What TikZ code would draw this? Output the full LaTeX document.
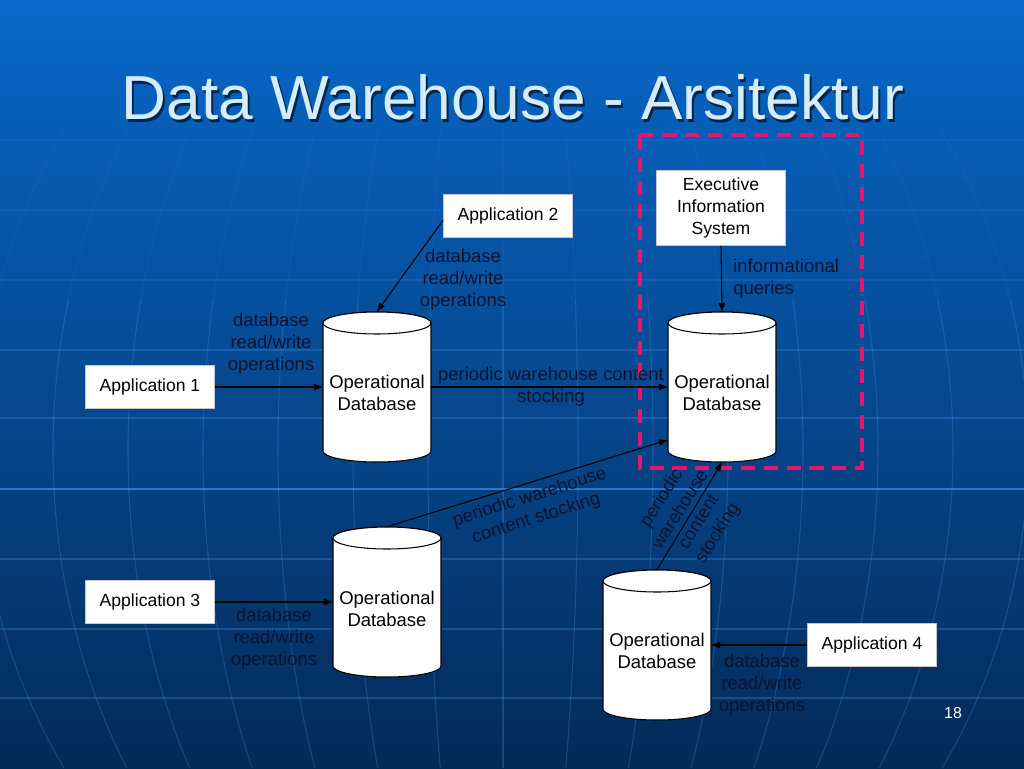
\documentclass[tikz,border=0pt]{standalone}
\usepackage{fontspec}
\setmainfont{Liberation Sans}
\usetikzlibrary{arrows.meta,calc}
\definecolor{bgtop}{HTML}{0868CA}
\definecolor{bgmid}{HTML}{0B4E9C}
\definecolor{bgbot}{HTML}{042A58}
\definecolor{gridc}{HTML}{4A92EC}
\definecolor{titlec}{HTML}{D6ECFB}
\definecolor{pinkc}{HTML}{E2176F}
\definecolor{labelc}{HTML}{08142E}
\newcommand{\drawcyl}[3]{%
  \node[dbnode] (#1) at (#2,#3) {};
  \filldraw[cylline] (#2-54,#3-64) -- (#2-54,#3+64)
     arc[start angle=180,end angle=0,x radius=54,y radius=11]
     -- (#2+54,#3-64)
     arc[start angle=0,end angle=-180,x radius=54,y radius=11] -- cycle;
  \draw[cylline] (#2,#3-64) ellipse[x radius=54,y radius=11];
}
\begin{document}
\begin{tikzpicture}[x=0.02cm,y=-0.02cm,
  appbox/.style={draw=gray!45, fill=white, line width=0.4pt, minimum width=2.58cm,
    minimum height=0.85cm, inner sep=0pt, align=center,
    font=\fontsize{10}{12.5}\selectfont, text=black},
  lbl/.style={font=\fontsize{10.5}{12.5}\selectfont, text=labelc, align=center, inner sep=0pt},
  dbtext/.style={font=\fontsize{10.5}{12.5}\selectfont, text=black, align=center, inner sep=0pt},
  dbnode/.style={minimum width=2.16cm, minimum height=3cm, inner sep=0pt},
  cylline/.style={draw=black, fill=white, line width=0.6pt},
  conn/.style={draw=black, line width=0.6pt, -{Triangle[length=5pt,width=3.6pt]}},
  gridline/.style={draw=gridc, line width=0.6pt},
  dashbox/.style={draw=pinkc, line width=2pt, dash pattern=on 8pt off 5pt}
]
% background
\shade[top color=bgtop, middle color=bgmid, bottom color=bgbot] (0,0) rectangle (1024,768);
\begin{scope}
\clip (0,0) rectangle (1024,768);
\foreach \yy/\op in {140/0.1,210/0.12,280/0.18,350/0.28,418/0.32,489/0.65,559/0.3,629/0.3,698/0.3}
  \draw[gridline, opacity=\op] (0,\yy) -- (1024,\yy);
\foreach \i in {-7,...,7}{
  \draw[gridline, opacity=0.1] plot[variable=\t, domain=130:300, samples=10, smooth]
     ({503+75*\i*sqrt(1-((\t-450)/580)^2)}, \t);
  \draw[gridline, opacity=0.28] plot[variable=\t, domain=300:768, samples=20, smooth]
     ({503+75*\i*sqrt(1-((\t-450)/580)^2)}, \t);
}
\end{scope}
\useasboundingbox (0,0) rectangle (1024,768);
% title
\node[font=\fontsize{35.4}{40}\selectfont, text=black, opacity=0.6, anchor=base] (titleshadow) at (515,122) {Data Warehouse - Arsitektur};
\node[font=\fontsize{35.4}{40}\selectfont, text=titlec, anchor=base] (title) at (513,119) {Data Warehouse - Arsitektur};
% dashed region
\draw[dashbox] (640,135) rectangle (862,468);
% cylinders
\drawcyl{db1}{377}{387}
\drawcyl{db2}{722}{387}
\drawcyl{db3}{387}{602}
\drawcyl{db4}{657}{645}
\node[dbtext] (db1t) at (377,393) {Operational\\Database};
\node[dbtext] (db2t) at (722,393) {Operational\\Database};
\node[dbtext] (db3t) at (387,609) {Operational\\Database};
\node[dbtext] (db4t) at (657,651) {Operational\\Database};
% boxes
\node[appbox] (app1) at (150,387) {Application 1};
\node[appbox] (app2) at (508,216) {Application 2};
\node[appbox] (app3) at (150,602) {Application 3};
\node[appbox] (app4) at (872,645) {Application 4};
\node[appbox, minimum height=1.5cm] (eis) at (721,208) {Executive\\Information\\System};
% connectors
\draw[conn] (app1) -- (db1);
\draw[conn] ($(app2.west)+(0,4)$) -- (db1.north);
\draw[conn] (db1) -- (db2);
\draw[conn] (eis.south) -- (db2.north);
\draw[conn] (app3) -- (db3);
\draw[conn] (app4) -- (db4);
\draw[conn] (db3.north) -- ($(db2.west)+(0,53)$);
\draw[conn] (db4.north) -- (db2.south);
% labels
\node[lbl] (l1) at (271,344) {database\\read/write\\operations};
\node[lbl] (l2) at (463,280) {database\\read/write\\operations};
\node[lbl] (l3) at (274,639) {database\\read/write\\operations};
\node[lbl] (l4) at (762,685) {database\\read/write\\operations};
\node[lbl, align=left, anchor=west] (l5) at (733,279) {informational\\queries};
\node[lbl] (l6) at (551,387) {periodic warehouse content\\stocking};
\node[lbl, rotate=17.5] (l7) at (533,508) {periodic warehouse\\content stocking};
\node[lbl, rotate=58] (l8) at (690,516) {periodic\\warehouse\\content\\stocking};
\node[font=\fontsize{9}{10}\selectfont, text=white] (pg) at (953,713) {18};
\end{tikzpicture}
\end{document}
